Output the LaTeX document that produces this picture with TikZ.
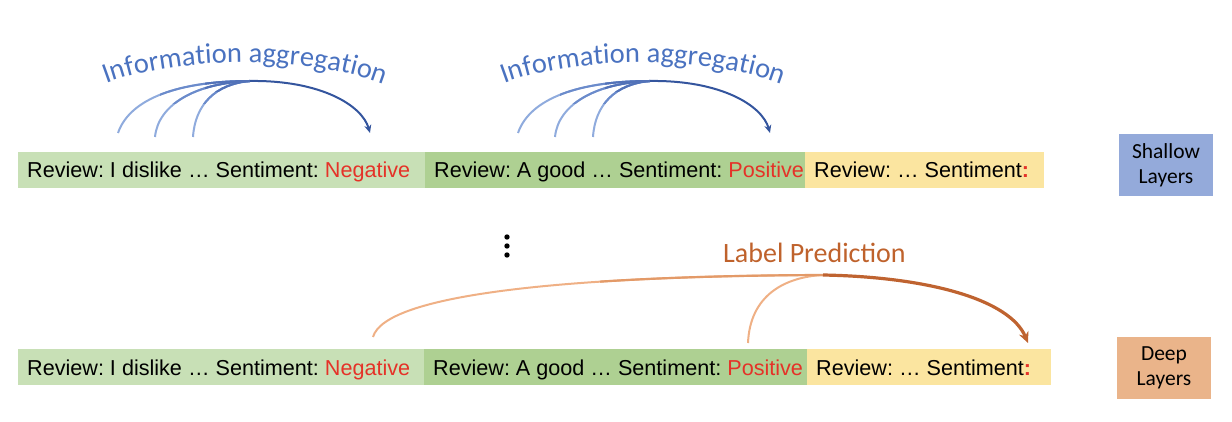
\documentclass[tikz,border=0pt]{standalone}
\usepackage{fontspec}
\setmainfont{Liberation Sans}
\newfontfamily\calfont{Carlito}
\usetikzlibrary{arrows.meta,decorations.text}
\definecolor{gA}{HTML}{C8E0B6}
\definecolor{gB}{HTML}{AED092}
\definecolor{yC}{HTML}{FBE5A0}
\definecolor{redT}{HTML}{E53228}
\definecolor{shal}{HTML}{94AADA}
\definecolor{deep}{HTML}{EAB48A}
\definecolor{bLight}{HTML}{8FABDD}
\definecolor{bMid}{HTML}{6B8BCB}
\definecolor{bMid2}{HTML}{5272B8}
\definecolor{bDark}{HTML}{34559E}
\definecolor{bText}{HTML}{4A72C0}
\definecolor{oLight}{HTML}{EFB085}
\definecolor{oMid}{HTML}{E39A68}
\definecolor{oDark}{HTML}{BF6330}
\definecolor{oText}{HTML}{BF622C}
\newcommand{\bartext}[2]{\makebox[#1][l]{\frenchspacing #2}}
\tikzset{
  bar/.style={anchor=north west, minimum height=36pt, inner xsep=9pt, inner ysep=0pt,
    text height=15.6pt, text depth=0pt, font=\fontsize{21.6}{26}\selectfont},
  layerbox/.style={minimum width=94pt, minimum height=62pt, inner sep=0pt, align=center,
    font=\calfont\fontsize{21.5}{25}\selectfont},
  blight/.style={draw=bLight, line width=2pt},
  bmid/.style={draw=bMid, line width=2pt},
  bmidb/.style={draw=bMid2, line width=2pt},
  bdark/.style={draw=bDark, line width=2pt, -{Stealth[length=8pt,width=7pt]}},
  olight/.style={draw=oLight, line width=2pt},
  omid/.style={draw=oMid, line width=2.2pt},
  odark/.style={draw=oDark, line width=3.2pt, -{Stealth[length=11pt,width=10pt]}},
  arctext/.style={decorate, decoration={text along path, text align=center,
    text color=bText, text format delimiters={|}{|},
    text={|\calfont\fontsize{28.5}{30}\selectfont|Information aggregation}}}
}
\begin{document}
\begin{tikzpicture}[x=1pt,y=-1pt]
\useasboundingbox (0,0) rectangle (1232,422);

% top row
\node[bar, fill=gA] (t1) at (18,152) {\bartext{389pt}{Review: I dislike \ldots\ Sentiment: \textcolor{redT}{Negative}}};
\node[bar, fill=gB] (t2) at (425,152) {\bartext{362pt}{Review: A good \ldots\ Sentiment: \textcolor{redT}{Positive}}};
\node[bar, fill=yC] (t3) at (805,152) {\bartext{221pt}{Review: \ldots\ Sentiment\textcolor{redT}{\textbf{:}}}};

% bottom row
\node[bar, fill=gA] (b1) at (18,349) {\bartext{388pt}{Review: I dislike \ldots\ Sentiment: \textcolor{redT}{Negative}}};
\node[bar, fill=gB] (b2) at (424,349) {\bartext{365pt}{Review: A good \ldots\ Sentiment: \textcolor{redT}{Positive}}};
\node[bar, fill=yC] (b3) at (807,349) {\bartext{226pt}{Review: \ldots\ Sentiment\textcolor{redT}{\textbf{:}}}};

% layer boxes
\node[layerbox, fill=shal] (sh) at (1166,165) {Shallow\\Layers};
\node[layerbox, fill=deep] (dp) at (1164,368) {Deep\\Layers};

% vertical dots
\fill (507,237) circle[radius=2.7pt];
\fill (507,246) circle[radius=2.7pt];
\fill (507,255) circle[radius=2.7pt];

% information aggregation, group 1
\coordinate (p1) at (118,133);
\coordinate (p2) at (155,137);
\coordinate (p3) at (193,137);
\coordinate (ap1) at (250,81);
\coordinate (tip1) at (370,133);
\draw[blight] (p1) .. controls (130,98) and (180,81) .. (ap1);
\draw[blight] (p2) .. controls (158,105) and (195,83) .. (ap1);
\draw[blight] (p3) .. controls (195,105) and (215,84) .. (ap1);
\begin{scope}
\clip (160,70) rectangle (252,104);
\draw[bmid] (p1) .. controls (130,98) and (180,81) .. (ap1);
\draw[bmid] (p2) .. controls (158,105) and (195,83) .. (ap1);
\draw[bmid] (p3) .. controls (195,105) and (215,84) .. (ap1);
\end{scope}
\begin{scope}
\clip (205,70) rectangle (252,92);
\draw[bmidb] (p1) .. controls (130,98) and (180,81) .. (ap1);
\draw[bmidb] (p2) .. controls (158,105) and (195,83) .. (ap1);
\draw[bmidb] (p3) .. controls (195,105) and (215,84) .. (ap1);
\end{scope}
\draw[bdark] (ap1) .. controls (320,80) and (362,105) .. (tip1);
\path[arctext] (95,88) .. controls (170,54) and (320,54) .. (395,89);

% information aggregation, group 2
\coordinate (q1) at (518,133);
\coordinate (q2) at (555,137);
\coordinate (q3) at (593,137);
\coordinate (ap2) at (650,81);
\coordinate (tip2) at (770,133);
\draw[blight] (q1) .. controls (530,98) and (580,81) .. (ap2);
\draw[blight] (q2) .. controls (558,105) and (595,83) .. (ap2);
\draw[blight] (q3) .. controls (595,105) and (615,84) .. (ap2);
\begin{scope}
\clip (560,70) rectangle (652,104);
\draw[bmid] (q1) .. controls (530,98) and (580,81) .. (ap2);
\draw[bmid] (q2) .. controls (558,105) and (595,83) .. (ap2);
\draw[bmid] (q3) .. controls (595,105) and (615,84) .. (ap2);
\end{scope}
\begin{scope}
\clip (605,70) rectangle (652,92);
\draw[bmidb] (q1) .. controls (530,98) and (580,81) .. (ap2);
\draw[bmidb] (q2) .. controls (558,105) and (595,83) .. (ap2);
\draw[bmidb] (q3) .. controls (595,105) and (615,84) .. (ap2);
\end{scope}
\draw[bdark] (ap2) .. controls (720,80) and (762,105) .. (tip2);
\path[arctext] (493,88) .. controls (568,54) and (718,54) .. (793,89);

% label prediction
\coordinate (r1) at (373,337);
\coordinate (r2) at (748,343);
\coordinate (ap3) at (823,275);
\coordinate (tip3) at (1028,343);
\draw[olight] (r1) .. controls (385,295) and (560,276) .. (ap3);
\draw[olight] (r2) .. controls (750,295) and (785,277) .. (ap3);
\begin{scope}
\clip (600,265) rectangle (825,300);
\draw[omid] (r1) .. controls (385,295) and (560,276) .. (ap3);
\end{scope}
\draw[odark] (ap3) .. controls (930,277) and (1010,300) .. (tip3);
\node[anchor=base west, inner sep=0pt, text=oText, font=\calfont\fontsize{28}{30}\selectfont] (lp) at (723,262) {Label Prediction};
\end{tikzpicture}
\end{document}
